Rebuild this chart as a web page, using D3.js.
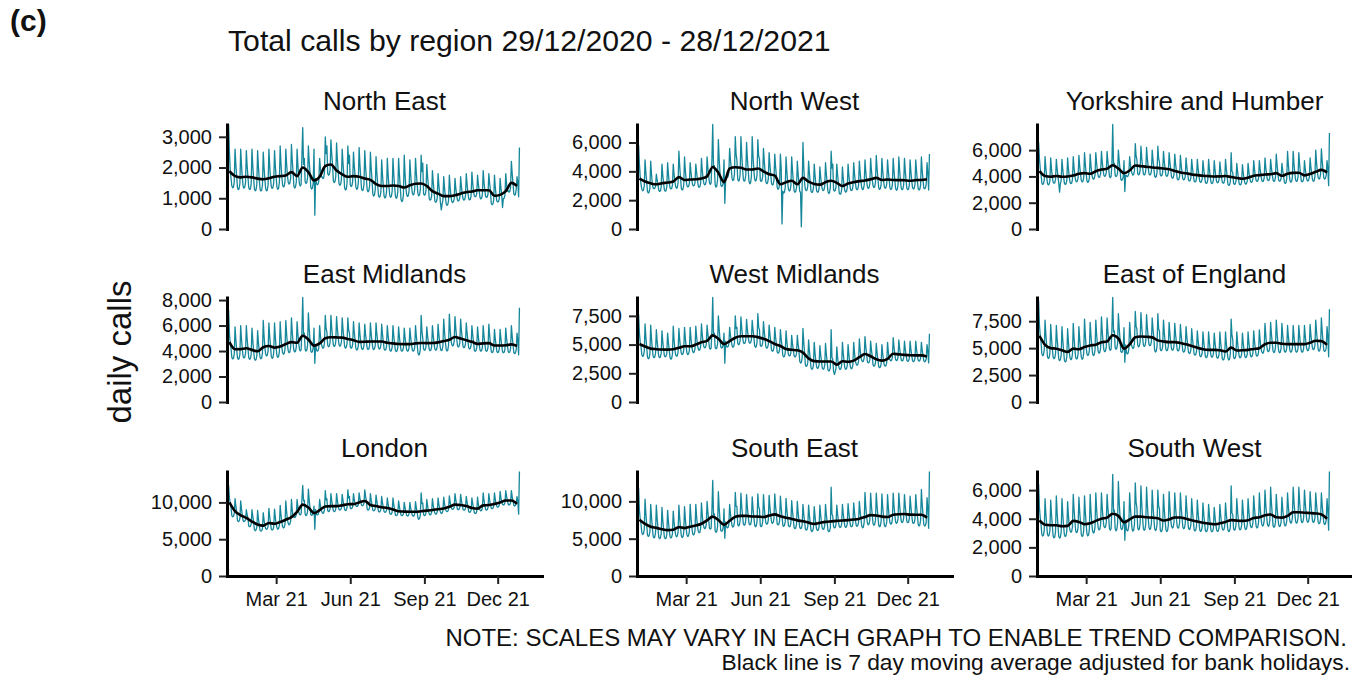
<!DOCTYPE html>
<html>
<head>
<meta charset="utf-8">
<script src="https://cdn.jsdelivr.net/npm/d3@7"></script>
<style>
  body { margin: 0; background: #fff; }
  svg { display: block; font-family: "Liberation Sans", Arial, sans-serif; }
</style>
</head>
<body>
<script>
// first day of the daily series, x domain and x tick positions
const seriesStart = "2020-12-29";
const xDomain = ["2020-12-30", "2022-01-25"];
const xTickDates = ["2021-03-01", "2021-06-01", "2021-09-01", "2021-12-01"];

// daily calls 29/12/2020 .. 28/12/2021, two Tue-Mon weeks per line, last value = 28/12/2021
const northEast = [
  1350,1300,1350,3400,2500,1900,1650, 1400,1340,1360,1530,2600,2100,1720,
  1350,1280,1310,1480,2600,2070,1680, 1390,1330,1360,1510,2550,2060,1700,
  1340,1290,1300,1470,2600,2060,1690, 1310,1240,1270,1440,2550,2030,1640,
  1300,1240,1260,1430,2500,2000,1620, 1310,1240,1260,1440,2600,2060,1650,
  1380,1320,1350,1500,2550,2050,1690, 1360,1290,1320,1510,2700,2140,1720,
  1430,1370,1390,1550,2600,2110,1740, 1520,1460,1490,1650,2750,2230,1850,
  1400,1330,1370,1520,2600,2090,1710, 1450,1400,1450,2400,3300,2100,2300,
  1540,1480,1510,1660,2700,2210,1850, 1360,1300,1330,1480,2600,450,1650,
  1480,1440,1460,1570,2300,1960,1700, 1700,1640,1660,1840,3000,2450,2700,
  1810,1750,1780,1920,2900,2440,2100, 1570,1510,1540,1700,2800,2280,1900,
  1480,1420,1450,1600,2600,2130,1780, 1340,1270,1290,1480,2700,2130,2400,
  1440,1380,1400,1550,2500,2050,1720, 1360,1290,1310,1490,2650,2100,1700,
  1310,1250,1270,1440,2550,2030,1640, 1270,1210,1240,1400,2500,1980,1600,
  1140,1070,1100,1270,2350,1840,1460, 1090,1030,1060,1210,2250,1760,1400,
  1070,1010,1040,1200,2300,1780,1400, 1090,1030,1060,1220,2300,1790,1410,
  1080,1000,1030,1200,2300,1790,1390, 970,890,920,1120,2400,1800,1350,
  1120,1060,1080,1240,2250,1770,1420, 1170,1110,1130,1290,2300,1820,1470,
  1150,1080,1110,1280,2400,1870,2140, 1150,1100,1120,1250,2100,1700,1400,
  990,940,960,1080,1900,1520,1230, 910,870,890,1010,1800,1430,1150,
  840,620,810,930,1700,1340,1070, 820,770,790,920,1750,1360,1070,
  900,860,880,980,1650,1330,1100, 950,910,930,1030,1700,1380,1150,
  980,940,960,1070,1800,1460,1200, 990,950,960,1080,1850,1490,1220,
  1080,1050,1060,1150,1750,1470,1260, 1030,980,1000,1120,1900,1530,1260,
  1060,1030,1040,1140,1800,1490,1260, 840,790,810,930,1750,1370,1080,
  910,880,890,990,1650,1340,1110, 700,980,1000,1100,1800,1470,1230,
  1250,1200,1220,1350,2200,1800,1500, 1150,1100,1120,1300,1700,1500,1050,
  2650
];
const northWest = [
  2700,2600,2700,5800,4500,3600,3100, 2760,2650,2690,2970,4800,3940,3290,
  2610,2500,2550,2830,4700,3820,3160, 2850,2800,2820,2950,3800,3400,3100,
  2700,2610,2640,2890,4500,3740,3170, 2720,2620,2660,2920,4600,3810,3210,
  2860,2780,2810,3040,4500,3810,3300, 2950,2820,2870,3210,5400,4370,3590,
  2820,2700,2750,3050,5000,4080,3390, 3000,2920,2950,3170,4600,3930,3420,
  3070,2990,3020,3220,4500,3900,3450, 2990,2890,2930,3190,4900,4100,3490,
  3160,3060,3100,3350,5000,4230,3640, 3200,3100,3200,4800,7250,4300,4400,
  3070,2900,2970,3400,6200,4880,3890, 3050,2950,2990,3200,4800,1780,3400,
  3690,3590,3630,3890,5600,4800,4190, 3510,3360,3420,3810,6400,5180,4800,
  3470,3320,3380,3780,6400,5170,4240, 3450,3320,3370,3720,6000,4930,4120,
  3310,3140,3210,3630,6400,5100,4120, 3470,3330,3390,3760,6200,5050,4900,
  3420,3300,3350,3650,5600,4680,3990, 3260,3150,3190,3470,5300,4440,3790,
  3160,3050,3090,3370,5200,4340,3690, 2880,2760,2810,3130,5200,4220,350,
  2620,2490,2540,2870,5000,4000,3240, 2750,2630,2680,2990,5000,4050,3340,
  2660,2550,2590,2870,4700,3840,3190, 2600,2550,150,2900,6000,4300,3200,
  2760,2660,2700,2970,4700,3890,3270, 2630,2530,2570,2830,4500,3710,3120,
  2640,2550,2580,2810,4300,3600,3080, 2760,2660,2700,2950,4600,3830,3240,
  2610,2460,2520,2900,5400,4220,4500, 2730,2630,2670,2910,4500,3750,3190,
  2500,2410,2440,2690,4300,3540,2970, 2660,2560,2600,2850,4500,3730,3140,
  2750,2670,2700,2950,4600,3820,3250, 2820,2720,2760,3020,4700,3910,3310,
  2840,2730,2780,3040,4800,3970,3350, 2920,2820,2860,3130,4900,4070,3440,
  2990,2880,2920,3210,5100,4210,3540, 2860,2750,2790,3070,4900,4040,3390,
  2930,2830,2870,3130,4800,4010,3420, 2850,2740,2790,3070,4900,4040,3400,
  2810,2690,2740,3040,5000,4080,3380, 2830,2720,2760,3050,4900,4030,3370,
  2820,2720,2760,3030,4800,3970,3340, 2880,2780,2820,3080,4800,3990,3380,
  2820,2700,2750,3050,5000,4080,3390, 2850,2800,2850,3100,4600,3900,2700,
  5200
];
const yorkshire = [
  3700,3600,3700,6600,5400,4600,4200, 3500,3390,3430,3710,5500,4660,4020,
  3460,3360,3400,3670,5400,4590,3970, 3570,3480,3510,3750,5300,4570,4020,
  3500,2800,3440,3690,5300,4540,3970, 3490,3390,3430,3690,5400,4600,3990,
  3550,3450,3490,3760,5500,4680,4060, 3690,3590,3630,3890,5600,4800,4190,
  3690,3580,3620,3910,5800,4910,4240, 3660,3550,3590,3870,5700,4840,4190,
  3890,3790,3830,4090,5800,5000,4390, 4020,3920,3960,4220,5900,5110,4510,
  4100,4010,4040,4290,5900,5140,4570, 4000,3900,4000,5000,7950,4900,5000,
  4090,3990,4030,4290,6000,5200,4590, 3800,3700,3750,3950,5200,2850,4100,
  4070,3990,4020,4220,5500,4900,4450, 4220,4100,4150,4460,6500,5540,5300,
  4230,4120,4160,4450,6300,5430,4770, 4210,4110,4150,4420,6200,5360,4730,
  4200,4110,4140,4390,6000,5240,4670, 4050,3930,3980,4290,6300,5350,5100,
  4130,4030,4070,4310,5900,5150,4600, 4100,4010,4040,4280,5800,5080,4540,
  3960,3860,3900,4140,5700,4970,4410, 3830,3730,3770,4010,5600,4850,4300,
  3820,3740,3770,3990,5400,4730,4240, 3730,3650,3680,3900,5300,4640,4140,
  3660,3580,3610,3840,5300,4610,4090, 3630,3550,3580,3800,5200,4540,4040,
  3560,3460,3500,3740,5300,4570,4010, 3550,3460,3500,3720,5200,4510,3990,
  3600,3520,3550,3760,5100,4470,3990, 3570,3480,3510,3750,5300,4570,4020,
  3400,3320,3360,3580,5800,4400,4300, 3470,3390,3430,3630,5000,4360,3880,
  3430,3350,3380,3580,4900,4280,3820, 3500,3420,3450,3660,5000,4370,3900,
  3630,3550,3580,3800,5200,4540,4040, 3700,3620,3650,3860,5200,4570,4090,
  3700,3610,3640,3880,5400,4680,4140, 3760,3680,3710,3920,5300,4650,4170,
  3720,3620,3660,3930,5700,4870,4240, 3710,3640,3660,3840,5000,4460,4050,
  3580,3460,3510,3830,5900,4920,4190, 3680,3560,3610,3910,5900,4960,4260,
  3730,3620,3660,3950,5800,4930,4270, 3670,3590,3630,3830,5200,4560,4080,
  3740,3650,3680,3910,5400,4700,4180, 3750,3630,3680,3990,6000,5050,4340,
  3920,3800,3850,4150,6100,5180,4490, 3900,3800,3850,4100,5200,4600,3300,
  7300
];
const eastMidlands = [
  3700,3600,3700,7200,5400,4600,4200, 3500,3380,3430,3750,5900,4890,4130,
  3480,3350,3400,3740,6000,4940,4140, 3570,3450,3500,3830,6000,4980,4210,
  3470,3350,3400,3720,5800,4820,4080, 3390,3280,3320,3620,5600,4670,3970,
  3540,3390,3450,3840,6400,5200,4290, 3750,3620,3670,4010,6200,5170,4390,
  3570,3430,3490,3850,6200,5090,4260, 3640,3500,3560,3920,6300,5180,4340,
  3880,3750,3800,4140,6400,5340,4540, 4010,3870,3930,4280,6600,5510,4690,
  4050,3930,3980,4290,6300,5350,4640, 4100,4000,4100,5600,8200,5300,5400,
  4140,3990,4050,4440,7000,5800,4890, 4000,3900,3950,4250,5800,3040,4500,
  4090,3990,4030,4290,6000,5200,4590, 4350,4220,4270,4610,6800,5770,5500,
  4460,4330,4380,4700,6800,5810,5070, 4480,4360,4410,4710,6700,5760,5060,
  4490,4380,4420,4710,6600,5710,5040, 4350,4230,4280,4590,6600,5650,5400,
  4320,4220,4260,4530,6300,5470,4840, 4180,4080,4120,4400,6200,5350,4710,
  4230,4130,4170,4430,6100,5310,4720, 4220,4120,4160,4430,6200,5370,4740,
  4230,4110,4170,4420,6200,5360,4750, 4260,4160,4200,4450,6100,5330,4740,
  4160,4060,4100,4350,6000,5220,4640, 4090,3990,4030,4290,6000,5200,4590,
  4060,3960,4000,4250,5900,5120,4540, 4080,3990,4030,4260,5800,5080,4530,
  4090,3990,4020,4270,5800,5070,4540, 4090,3990,4030,4290,6000,5200,4590,
  3840,3690,3750,4150,6800,5560,5000, 4160,4060,4100,4340,5900,5170,4610,
  4130,4030,4070,4330,6000,5210,4620, 4160,4060,4100,4370,6100,5290,4670,
  4160,4030,4080,4400,6500,5510,4770, 4150,4000,4060,4440,6900,5740,4870,
  4520,4400,4450,4750,6700,5780,5090, 4430,4320,4360,4650,6500,5630,4970,
  4360,4260,4300,4550,6200,5420,4840, 4260,4160,4200,4440,6000,5270,4710,
  4070,3980,4020,4270,5900,5130,4560, 4090,3990,4030,4290,6000,5200,4590,
  4080,3980,4020,4300,6100,5250,4610, 3970,3880,3910,4150,5700,4970,4420,
  3960,3870,3920,4150,5700,4970,4430, 3960,3860,3900,4150,5800,5030,4440,
  3980,3880,3920,4200,6000,5150,4510, 3900,3800,3850,4100,5400,4800,3700,
  7400
];
const westMidlands = [
  4200,4100,4200,7600,6000,5200,4800, 4120,3970,4030,4400,6800,5670,4820,
  3910,3760,3820,4200,6700,5520,4640, 3980,3860,3910,4230,6300,5320,4590,
  3980,3860,3910,4210,6200,5260,4560, 4040,3930,3980,4240,6000,5170,4550,
  3870,3730,3790,4160,6600,5450,4590, 4110,3990,4040,4350,6400,5440,4710,
  4250,4130,4180,4490,6500,5550,4840, 4260,4120,4190,4480,6500,5560,4840,
  4420,4300,4350,4650,6600,5680,4990, 4620,4500,4550,4850,6800,5880,5190,
  4820,4720,4760,5020,6700,5910,5310, 4700,4600,4700,6200,9100,5800,6000,
  4770,4630,4690,5060,7500,6350,5490, 4800,4700,4750,5000,6000,3380,5300,
  4860,4780,4810,5040,6500,5810,5300, 4910,4770,4830,5180,7500,6410,6500,
  5110,4990,5040,5350,7400,6440,5710, 5200,5090,5130,5410,7200,6360,5720,
  5220,5120,5160,5420,7100,6310,5710, 4910,4760,4820,5200,7700,6520,6300,
  4960,4850,4890,5170,7000,6140,5490, 4790,4690,4730,4990,6700,5900,5290,
  4520,4420,4460,4730,6500,5670,5040, 4360,4260,4300,4570,6300,5490,4870,
  4050,3930,3980,4270,6200,5290,4610, 4100,4010,4040,4280,5800,5080,4540,
  4030,3930,3970,4210,5800,5050,4490, 3540,3390,3450,3840,6400,5200,4290,
  3220,3100,3150,3450,5400,4480,3790, 2960,2850,2890,3200,5200,4260,3550,
  3030,2930,2970,3230,4900,4110,3520, 2960,2850,2890,3190,5100,4200,3520,
  2800,2700,2750,3000,6300,3900,3700, 2690,2400,2620,2910,4800,3910,3240,
  2950,2830,2880,3190,5200,4250,3540, 2960,2850,2890,3170,5000,4140,3490,
  3020,2900,2950,3250,5200,4280,3590, 3320,3200,3250,3550,5500,4580,3890,
  3630,3520,3560,3850,5700,4830,4170, 3500,3410,3440,3690,5300,4540,3970,
  3220,3120,3160,3420,5100,4310,3710, 3090,2990,3030,3290,5000,4200,3590,
  3220,3120,3160,3430,5200,4370,3740, 3690,3590,3630,3890,5600,4800,4190,
  3700,3610,3640,3880,5400,4680,4140, 3660,3580,3610,3840,5300,4610,4090,
  3620,3540,3570,3800,5300,4590,4060, 3610,3520,3560,3790,5300,4580,4050,
  3650,3560,3600,3810,5200,4550,4060, 3600,3500,3550,3750,5000,4400,3400,
  5950
];
const eastOfEngland = [
  4900,4800,4900,9400,7200,6200,5600, 4470,4300,4370,4800,7600,6280,5290,
  4200,4040,4110,4520,7200,5940,4990, 4170,4020,4080,4480,7100,5870,4940,
  4000,3840,3910,4320,7000,5740,4790, 3870,3720,3780,4180,6800,5570,4640,
  4100,3930,4000,4430,7300,5950,4940, 4140,3990,4050,4440,7000,5800,4890,
  4160,3970,4040,4530,7700,6210,5090, 4470,4320,4380,4780,7400,6170,5240,
  4480,4310,4380,4810,7600,6290,5300, 4700,4530,4600,5030,7900,6550,5540,
  4830,4670,4730,5140,7800,6550,5610, 4900,4800,4900,6800,9700,6500,6600,
  5070,4900,4970,5400,8200,6880,5890, 4700,4600,4650,4950,6900,3690,5300,
  4610,4460,4520,4900,7400,6220,5340, 5130,4960,5030,5470,8400,7020,6800,
  5270,5120,5180,5590,8300,7030,6070, 5310,5160,5220,5600,8100,6920,6040,
  5350,5220,5270,5600,7800,6770,5990, 4820,4640,4710,5180,8200,6780,6600,
  4900,4760,4820,5190,7600,6460,5610, 4890,4760,4810,5160,7400,6340,5550,
  4930,4800,4850,5180,7300,6300,5550, 4860,4730,4780,5100,7200,6210,5470,
  4750,4630,4680,4990,7000,6050,5340, 4620,4500,4550,4850,6800,5880,5190,
  4460,4350,4390,4690,6600,5700,5020, 4320,4200,4250,4550,6500,5580,4890,
  4240,4120,4170,4480,6500,5550,4830, 4270,4160,4210,4500,6400,5500,4830,
  4180,4060,4110,4430,6500,5520,4790, 4030,3900,3960,4290,6500,5460,4680,
  4090,3900,3970,4470,7700,6180,5800, 4160,4030,4080,4400,6500,5510,4770,
  4220,4100,4150,4450,6400,5480,4790, 4240,4120,4170,4480,6500,5550,4830,
  4310,4190,4240,4550,6600,5640,4910, 4380,4260,4310,4630,6700,5720,4990,
  4660,4520,4570,4930,7300,6190,5350, 4810,4670,4730,5080,7400,6310,5490,
  4740,4590,4650,5040,7600,6400,5490, 4710,4570,4630,4980,7300,6210,5390,
  4750,4630,4670,5000,7100,6110,5370, 4740,4620,4680,4990,7100,6100,5370,
  4760,4630,4670,5000,7100,6110,5360, 4750,4620,4670,4990,7100,6120,5370,
  4880,4760,4810,5130,7200,6220,5490, 5000,4860,4920,5270,7600,6500,5680,
  4870,4720,4780,5180,7800,6570,5640, 4800,4700,4750,5000,7000,6100,4200,
  8600
];
const london = [
  9300,9200,9300,12300,10600,9900,9300, 8200,8050,8100,8450,10500,9500,8800,
  7550,7400,7450,7800,10200,9100,8250, 7500,7400,7450,7650,9000,8350,7900,
  6800,6700,6750,7050,9000,8100,7400, 6300,6150,6250,6600,8900,7800,7000,
  6200,6100,6150,6450,8600,7600,6850, 6450,6350,6400,6750,9200,8050,7200,
  6350,6250,6300,6650,9100,7950,7100, 6550,6350,6450,6850,9600,8300,7350,
  6700,6550,6600,7100,10200,8750,7650, 7150,6950,7050,7450,10400,9000,8000,
  8100,7950,8000,8350,10400,9400,8700, 8400,8300,8450,10500,12300,10200,10300,
  8400,8200,8300,8750,11800,10350,9300, 8350,8250,8300,8650,9500,6350,9050,
  8400,8300,8350,8650,10400,9550,8950, 8650,8500,8600,9000,11600,10350,10500,
  8900,8750,8800,9150,11200,10200,9500, 8850,8750,8800,9100,11200,10250,9500,
  9050,8950,9000,9250,11100,10250,9600, 9050,8900,8950,9300,11700,10600,10800,
  9250,9150,9200,9450,11200,10400,9750, 9550,9450,9450,9700,11300,10550,10000,
  9650,9550,9600,9850,11700,10850,10200, 9100,8950,9000,9300,11200,10300,9650,
  8950,8850,8900,9150,11000,10150,9500, 8800,8700,8750,9050,10800,9950,9350,
  8750,8650,8700,8950,10600,9800,9250, 8500,8400,8400,8700,10600,9700,9050,
  8300,8200,8250,8500,10200,9400,8800, 8300,8200,8250,8450,10000,9300,8750,
  8250,8150,8200,8450,10000,9250,8750, 8250,8150,8150,8450,10100,9300,8700,
  7900,7700,7800,8250,11300,9850,9900, 8350,8200,8250,8550,10400,9550,8850,
  8450,8300,8350,8650,10500,9650,8950, 8550,8400,8450,8750,10600,9750,9050,
  8650,8500,8550,8850,10700,9850,9150, 8850,8750,8800,9050,10900,10050,9400,
  9150,9050,9100,9350,11200,10350,9700, 9100,9000,9050,9350,11100,10250,9650,
  9050,8950,8950,9200,10800,10050,9500, 8750,8650,8700,8950,10600,9850,9250,
  8600,8500,8500,8800,10700,9800,9150, 9000,8850,8900,9250,11300,10300,9600,
  9050,8950,9000,9300,11200,10300,9650, 9250,9150,9200,9450,11300,10450,9800,
  9450,9350,9400,9650,11500,10650,10000, 9750,9650,9700,9950,11600,10850,10250,
  9750,9650,9700,9950,11600,10800,10250, 9600,9500,9600,9900,10800,10100,8400,
  14200
];
const southEast = [
  6300,6200,6300,11800,8800,7600,6900, 5800,5550,5650,6250,10300,8400,6950,
  5500,5300,5400,5950,9600,7900,6600, 5350,5100,5200,5800,9500,7750,6450,
  5200,5000,5100,5650,9200,7500,6250, 5200,5000,5050,5550,8800,7300,6150,
  5300,5100,5200,5650,8700,7250,6200, 5500,5250,5350,5900,9500,7800,6550,
  5400,5150,5250,5800,9300,7650,6400, 5500,5300,5400,5950,9600,7900,6600,
  5700,5500,5600,6100,9600,7950,6750, 6000,5800,5850,6400,9800,8200,7000,
  6550,6350,6400,6900,10000,8550,7450, 6400,6300,6400,8800,12800,8200,8300,
  6100,5850,5950,6650,11300,9100,7500, 6100,6000,6050,6500,9000,5050,7200,
  6600,6450,6500,6900,9600,8350,7400, 6750,6550,6650,7250,11200,9350,9300,
  6950,6700,6800,7400,11100,9350,8050, 7000,6800,6900,7400,10900,9250,8050,
  7050,6850,6900,7400,10600,9100,7950, 6850,6600,6700,7300,11000,9250,9000,
  6800,6600,6700,7250,10900,9200,7900, 7100,6950,7000,7500,10800,9250,8100,
  7250,7050,7150,7650,11000,9400,8250, 7000,6850,6900,7400,10700,9150,8000,
  6850,6650,6750,7250,10400,8900,7800, 6750,6600,6650,7100,10100,8700,7650,
  6500,6350,6400,6900,10000,8550,7450, 6500,6350,6400,6850,9600,8300,7300,
  6300,6150,6200,6650,9500,8150,7150, 6150,5950,6050,6450,9300,7950,6950,
  6250,6100,6150,6600,9500,8150,7100, 6400,6250,6300,6750,9600,8250,7250,
  6100,5950,6000,6450,11900,8300,8000, 6600,6450,6500,6900,9500,8300,7350,
  6650,6500,6550,6950,9600,8350,7450, 6650,6500,6600,7000,9700,8450,7450,
  6750,6600,6650,7050,9800,8500,7550, 6850,6650,6750,7150,10000,8650,7650,
  6700,6450,6550,7200,11200,9300,7900, 7100,6850,6950,7500,11100,9400,8150,
  7000,6800,6900,7450,11100,9400,8100, 6850,6600,6700,7300,11000,9250,7950,
  6800,6600,6700,7250,10900,9200,7900, 7150,6950,7000,7550,11100,9450,8200,
  7250,7050,7150,7650,11100,9500,8250, 7350,7150,7250,7750,10900,9400,8300,
  7300,7150,7200,7700,10700,9300,8200, 7200,7050,7100,7600,10900,9350,8200,
  6950,6700,6800,7450,11600,9650,8200, 6900,6700,6800,7200,10500,9000,6400,
  14000
];
const southWest = [
  3100,3000,3100,6400,4800,4100,3600, 2920,2790,2840,3180,5400,4360,3570,
  2910,2790,2840,3170,5300,4300,3540, 2810,2660,2720,3100,5600,4420,3540,
  2780,2650,2700,3060,5400,4300,3470, 2880,2760,2810,3130,5200,4220,3490,
  3180,3050,3100,3440,5700,4640,3840, 3160,3030,3080,3400,5500,4510,3770,
  2900,2760,2820,3190,5600,4460,3610, 2950,2800,2860,3240,5700,4540,3670,
  3140,3000,3060,3420,5800,4680,3840, 3350,3220,3270,3610,5800,4770,3990,
  3490,3380,3420,3720,5700,4770,4070, 3300,3200,3300,4800,7100,4500,4600,
  3330,3160,3230,3670,6600,5220,4190, 3350,3250,3300,3600,5200,2500,3900,
  3280,3150,3200,3540,5800,4740,3940, 3300,3130,3200,3630,6500,5150,4800,
  3370,3220,3280,3680,6300,5070,4140, 3340,3190,3250,3640,6200,5000,4090,
  3380,3250,3300,3660,6000,4900,4070, 3320,3170,3230,3600,6000,4870,4700,
  3220,3090,3140,3480,5700,4660,3870, 3240,3100,3160,3520,5900,4780,3940,
  3470,3350,3400,3720,5800,4820,4080, 3460,3340,3390,3710,5800,4810,4090,
  3420,3300,3350,3650,5600,4680,3990, 3360,3250,3290,3570,5400,4540,3890,
  3260,3150,3190,3470,5300,4440,3790, 3220,3120,3160,3420,5100,4310,3710,
  3190,3090,3130,3380,5000,4240,3660, 3180,3090,3130,3350,4800,4120,3600,
  3200,3110,3140,3390,5000,4240,3670, 3300,3210,3240,3490,5100,4340,3770,
  3200,3100,3150,3400,6300,4400,4300, 3310,3200,3250,3530,5400,4520,3860,
  3320,3220,3260,3530,5300,4470,3840, 3360,3250,3290,3570,5400,4540,3890,
  3490,3380,3420,3710,5600,4710,4040, 3480,3360,3410,3730,5800,4820,4090,
  3620,3490,3540,3870,6000,5000,4240, 3610,3470,3530,3880,6200,5110,4290,
  3520,3400,3450,3750,5700,4780,4090, 3560,3460,3500,3770,5500,4690,4070,
  3620,3500,3550,3850,5800,4880,4190, 3820,3690,3740,4070,6200,5200,4440,
  3810,3690,3740,4060,6200,5190,4450, 3850,3730,3780,4070,6000,5090,4410,
  3860,3750,3790,4070,5900,5040,4390, 3850,3750,3790,4060,5800,4980,4360,
  3760,3650,3690,3970,5800,4940,4290, 3700,3600,3650,3900,5400,4600,3200,
  7300
];

// black line: 7 day moving average, read once a week (each Saturday from 02/01/2021)
const northEastAvg = [1880,1720,1680,1700,1680,1640,1620,1650,1700,1720,1740,1850,1720,2000,1850,1580,1700,2050,2100,1900,1780,1700,1720,1700,1640,1600,1460,1400,1400,1415,1400,1350,1420,1470,1480,1400,1230,1150,1070,1070,1100,1150,1200,1220,1260,1260,1260,1080,1110,1230,1500,1400];
const northWestAvg = [3500,3300,3170,3100,3180,3220,3300,3600,3400,3430,3450,3500,3650,4300,3900,3250,4200,4280,4250,4130,4130,4200,4000,3800,3700,3100,3250,3350,3100,3550,3280,3130,3080,3250,3350,3200,2980,3150,3250,3320,3360,3450,3550,3400,3430,3400,3390,3380,3350,3390,3400,3450];
const yorkshireAvg = [4400,4030,3980,4030,3980,4000,4070,4200,4250,4200,4400,4520,4580,4850,4600,4250,4450,4830,4780,4740,4680,4650,4600,4550,4420,4300,4240,4150,4100,4050,4020,3990,4000,4030,3950,3880,3820,3900,4050,4100,4150,4170,4250,4050,4200,4270,4280,4080,4180,4350,4500,4300];
const eastMidlandsAvg = [4700,4140,4150,4220,4090,3980,4300,4400,4270,4350,4550,4700,4650,5200,4900,4420,4600,5000,5080,5070,5050,4950,4850,4720,4730,4750,4750,4750,4650,4600,4550,4540,4540,4600,4630,4620,4630,4680,4780,4880,5100,4980,4850,4720,4560,4600,4620,4430,4430,4450,4520,4400];
const westMidlandsAvg = [5050,4830,4650,4600,4570,4560,4600,4720,4850,4850,5000,5200,5320,5800,5500,5050,5300,5600,5720,5730,5720,5650,5500,5300,5050,4880,4620,4550,4500,4300,3800,3560,3530,3530,3530,3250,3550,3500,3600,3900,4180,3980,3720,3600,3750,4200,4150,4100,4070,4060,4060,3950];
const eastOfEnglandAvg = [6150,5300,5000,4950,4800,4650,4950,4900,5100,5250,5310,5550,5620,6200,5900,4950,5350,6000,6080,6050,6000,5720,5620,5560,5560,5480,5350,5200,5030,4900,4840,4840,4800,4690,5050,4780,4800,4840,4920,5000,5360,5500,5500,5400,5375,5375,5375,5375,5500,5690,5650,5300];
const londonAvg = [10000,8800,8250,7900,7400,7000,6850,7200,7100,7350,7650,8000,8700,9700,9300,8550,8950,9450,9500,9500,9600,9750,9770,10000,10200,9650,9500,9350,9250,9050,8800,8750,8730,8730,8800,8880,8980,9080,9180,9400,9700,9650,9500,9250,9150,9600,9640,9800,10000,10250,10250,9800];
const southEastAvg = [7550,6980,6600,6450,6270,6150,6200,6550,6420,6600,6750,7000,7450,7950,7500,6850,7400,7950,8050,8050,7980,7950,7900,8100,8250,8000,7800,7650,7450,7330,7150,6980,7120,7250,7320,7380,7440,7480,7560,7680,7900,8150,8100,7950,7900,8200,8280,8300,8220,8200,8200,7800];
const southWestAvg = [3880,3580,3550,3550,3480,3500,3850,3780,3620,3680,3850,4000,4080,4350,4200,3750,3950,4150,4150,4100,4080,4030,3880,3950,4090,4090,4000,3900,3800,3720,3670,3610,3680,3780,3900,3870,3850,3900,4050,4100,4250,4300,4100,4080,4200,4450,4450,4420,4400,4370,4300,4000];

// y tick labels per panel
const ticks1000 = [0, 1000, 2000, 3000];
const ticks2000 = [0, 2000, 4000, 6000];
const ticks2000b = [0, 2000, 4000, 6000, 8000];
const ticks2500 = [0, 2500, 5000, 7500];
const ticks5000 = [0, 5000, 10000];

const regions = [
  { name: "North East", calls: northEast, avg: northEastAvg, ticks: ticks1000 },
  { name: "North West", calls: northWest, avg: northWestAvg, ticks: ticks2000 },
  { name: "Yorkshire and Humber", calls: yorkshire, avg: yorkshireAvg, ticks: ticks2000 },
  { name: "East Midlands", calls: eastMidlands, avg: eastMidlandsAvg, ticks: ticks2000b },
  { name: "West Midlands", calls: westMidlands, avg: westMidlandsAvg, ticks: ticks2500 },
  { name: "East of England", calls: eastOfEngland, avg: eastOfEnglandAvg, ticks: ticks2500 },
  { name: "London", calls: london, avg: londonAvg, ticks: ticks5000 },
  { name: "South East", calls: southEast, avg: southEastAvg, ticks: ticks5000 },
  { name: "South West", calls: southWest, avg: southWestAvg, ticks: ticks2000 }
];

const width = 1352, height = 677;
const colLeft = [227, 637, 1037];
const rowTop = [124.5, 297.5, 471.5];
const panelW = 315, panelH = 104.5;
const teal = "#16879a";
const ink = "#111";
const font = "'Liberation Sans', Arial, sans-serif";

const parse = d3.timeParse("%Y-%m-%d");
const day0 = parse(seriesStart);

const x = d3.scaleTime()
  .domain(xDomain.map(parse))
  .range([0, panelW]);

const svg = d3.select("body").append("svg")
  .attr("width", width)
  .attr("height", height);

svg.append("text")
  .attr("x", 10).attr("y", 31)
  .attr("font-size", 30).attr("font-weight", "bold").attr("fill", ink)
  .text("(c)");

svg.append("text")
  .attr("x", 228).attr("y", 51)
  .attr("font-size", 30.2).attr("fill", ink)
  .text("Total calls by region 29/12/2020 - 28/12/2021");

svg.append("text")
  .attr("transform", "translate(131,352) rotate(-90)")
  .attr("text-anchor", "middle")
  .attr("font-size", 33).attr("fill", ink)
  .text("daily calls");

regions.forEach((r, i) => {
  const col = i % 3, row = Math.floor(i / 3);
  const g = svg.append("g")
    .attr("transform", `translate(${colLeft[col]},${rowTop[row]})`);

  const y = d3.scaleLinear()
    .domain([0, d3.max(r.calls)])
    .range([panelH, 0]);

  const daily = r.calls.map((v, j) => ({ date: d3.timeDay.offset(day0, j), v }));
  const weekly = r.avg.map((v, k) => ({ date: d3.timeDay.offset(day0, 7 * k + 4), v }));

  const dailyLine = d3.line().x(d => x(d.date)).y(d => y(d.v));
  const avgLine = d3.line().x(d => x(d.date)).y(d => y(d.v)).curve(d3.curveMonotoneX);

  g.append("path")
    .datum(daily)
    .attr("fill", "none")
    .attr("stroke", teal)
    .attr("stroke-width", 1.3)
    .attr("stroke-linejoin", "round")
    .attr("d", dailyLine);

  g.append("path")
    .datum(weekly)
    .attr("fill", "none")
    .attr("stroke", "#000")
    .attr("stroke-width", 2.6)
    .attr("stroke-linejoin", "round")
    .attr("d", avgLine);

  g.append("text")
    .attr("x", panelW / 2).attr("y", -15)
    .attr("text-anchor", "middle")
    .attr("font-size", 26).attr("fill", ink)
    .text(r.name);

  const yAxis = g.append("g")
    .call(d3.axisLeft(y)
      .tickValues(r.ticks)
      .tickFormat(d3.format(","))
      .tickSize(8)
      .tickSizeOuter(0)
      .tickPadding(7))
    .attr("font-size", 20)
    .attr("font-family", font);
  yAxis.select(".domain").attr("stroke", "#000").attr("stroke-width", 3).attr("stroke-linecap", "square");
  yAxis.selectAll(".tick line").attr("stroke", "#222").attr("stroke-width", 2);
  yAxis.selectAll(".tick text").attr("fill", ink);

  if (row === 2) {
    const xAxis = g.append("g")
      .attr("transform", `translate(0,${panelH})`)
      .call(d3.axisBottom(x)
        .tickValues(xTickDates.map(parse))
        .tickFormat(d3.timeFormat("%b %y"))
        .tickSize(8)
        .tickSizeOuter(0)
        .tickPadding(8))
      .attr("font-size", 20)
      .attr("font-family", font);
    xAxis.select(".domain").attr("stroke", "#000").attr("stroke-width", 3).attr("stroke-linecap", "square");
    xAxis.selectAll(".tick line").attr("stroke", "#222").attr("stroke-width", 2);
    xAxis.selectAll(".tick text").attr("fill", ink);
  }
});

svg.append("text")
  .attr("x", 1347).attr("y", 646)
  .attr("text-anchor", "end")
  .attr("font-size", 24).attr("fill", ink)
  .text("NOTE: SCALES MAY VARY IN EACH GRAPH TO ENABLE TREND COMPARISON.");

svg.append("text")
  .attr("x", 1350).attr("y", 670)
  .attr("text-anchor", "end")
  .attr("font-size", 22.8).attr("fill", ink)
  .text("Black line is 7 day moving average adjusted for bank holidays.");
</script>
</body>
</html>
